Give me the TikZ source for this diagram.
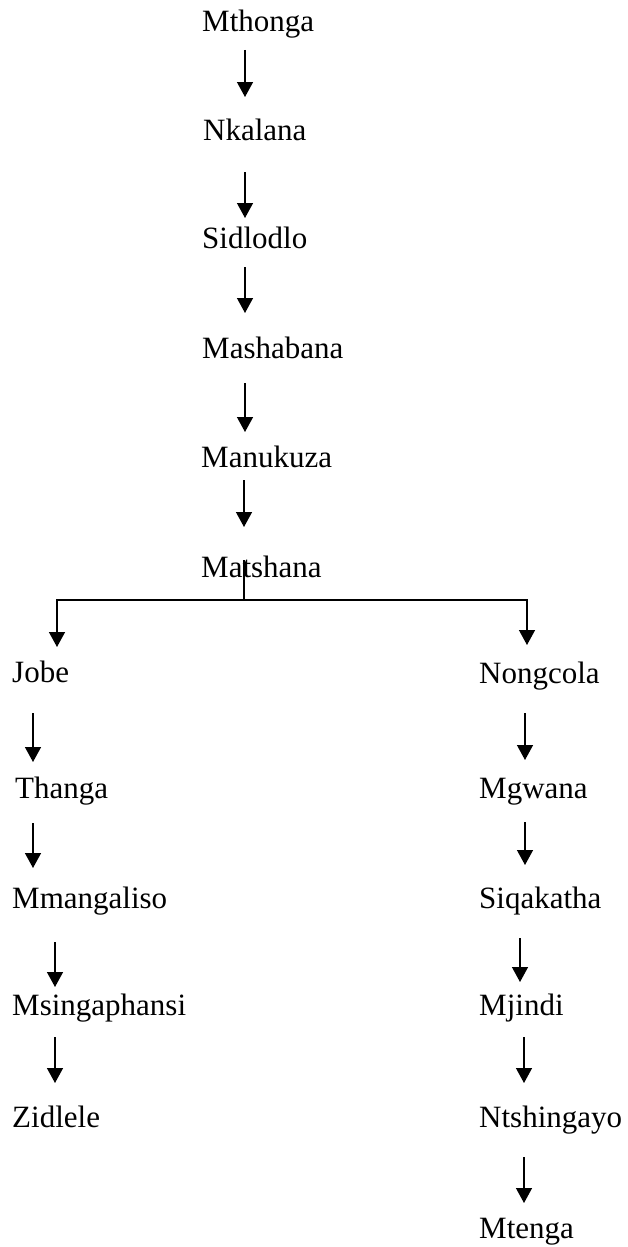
\documentclass[tikz,border=0pt]{standalone}
\usepackage{fontspec}
\setmainfont{Liberation Serif}
\usetikzlibrary{arrows.meta}
\begin{document}
\begin{tikzpicture}[x=1pt,y=-1pt,
  person/.style={anchor=base west,inner sep=0pt,font=\fontsize{31}{37}\selectfont},
  link/.style={line width=1.4pt},
  arr/.style={link,-{Triangle[width=16pt,length=15pt]}}]
\useasboundingbox (0,0) rectangle (627,1247);
% main line
\node[person] (mthonga)   at (202,32)  {Mthonga};
\node[person] (nkalana)   at (203,140) {Nkalana};
\node[person] (sidlodlo)  at (202,248) {Sidlodlo};
\node[person] (mashabana) at (202,358) {Mashabana};
\node[person] (manukuza)  at (201,467) {Manukuza};
\node[person] (matshana)  at (201,577) {Matshana};
% left branch
\node[person] (jobe)      at (12,682)  {Jobe};
\node[person] (thanga)    at (15,798)  {Thanga};
\node[person] (mmang)     at (12,908)  {Mmangaliso};
\node[person] (msinga)    at (12,1015) {Msingaphansi};
\node[person] (zidlele)   at (12,1127) {Zidlele};
% right branch
\node[person] (nongcola)  at (479,683) {Nongcola};
\node[person] (mgwana)    at (479,798) {Mgwana};
\node[person] (siqa)      at (479,908) {Siqakatha};
\node[person] (mjindi)    at (479,1015){Mjindi};
\node[person] (ntshi)     at (479,1127){Ntshingayo};
\node[person] (mtenga)    at (479,1238){Mtenga};
% main line arrows
\draw[arr] ([shift={(43pt,-18pt)}]mthonga.base west)   -- ([shift={(42pt,43pt)}]nkalana.base west);
\draw[arr] ([shift={(42pt,-32pt)}]nkalana.base west)   -- ([shift={(43pt,30pt)}]sidlodlo.base west);
\draw[arr] ([shift={(43pt,-19pt)}]sidlodlo.base west)  -- ([shift={(43pt,45pt)}]mashabana.base west);
\draw[arr] ([shift={(43pt,-25pt)}]mashabana.base west) -- ([shift={(44pt,35pt)}]manukuza.base west);
\draw[arr] ([shift={(43pt,-13pt)}]manukuza.base west)  -- ([shift={(43pt,50pt)}]matshana.base west);
% split
\draw[link] ([shift={(43pt,17pt)}]matshana.base west) -- ++(0,40) coordinate (hub);
\draw[arr] (hub) -| ([shift={(45pt,35pt)}]jobe.base west);
\draw[arr] (hub) -| ([shift={(48pt,38pt)}]nongcola.base west);
% left arrows
\draw[arr] ([shift={(21pt,-31pt)}]jobe.base west)   -- ([shift={(18pt,36pt)}]thanga.base west);
\draw[arr] ([shift={(18pt,-25pt)}]thanga.base west) -- ([shift={(21pt,40pt)}]mmang.base west);
\draw[arr] ([shift={(43pt,-34pt)}]mmang.base west)  -- ([shift={(43pt,28pt)}]msinga.base west);
\draw[arr] ([shift={(43pt,-22pt)}]msinga.base west) -- ([shift={(43pt,44pt)}]zidlele.base west);
% right arrows
\draw[arr] ([shift={(46pt,-30pt)}]nongcola.base west) -- ([shift={(46pt,38pt)}]mgwana.base west);
\draw[arr] ([shift={(46pt,-24pt)}]mgwana.base west)   -- ([shift={(46pt,43pt)}]siqa.base west);
\draw[arr] ([shift={(41pt,-30pt)}]siqa.base west)     -- ([shift={(41pt,33pt)}]mjindi.base west);
\draw[arr] ([shift={(45pt,-22pt)}]mjindi.base west)   -- ([shift={(45pt,44pt)}]ntshi.base west);
\draw[arr] ([shift={(45pt,-30pt)}]ntshi.base west)    -- ([shift={(45pt,35pt)}]mtenga.base west);
\end{tikzpicture}
\end{document}
